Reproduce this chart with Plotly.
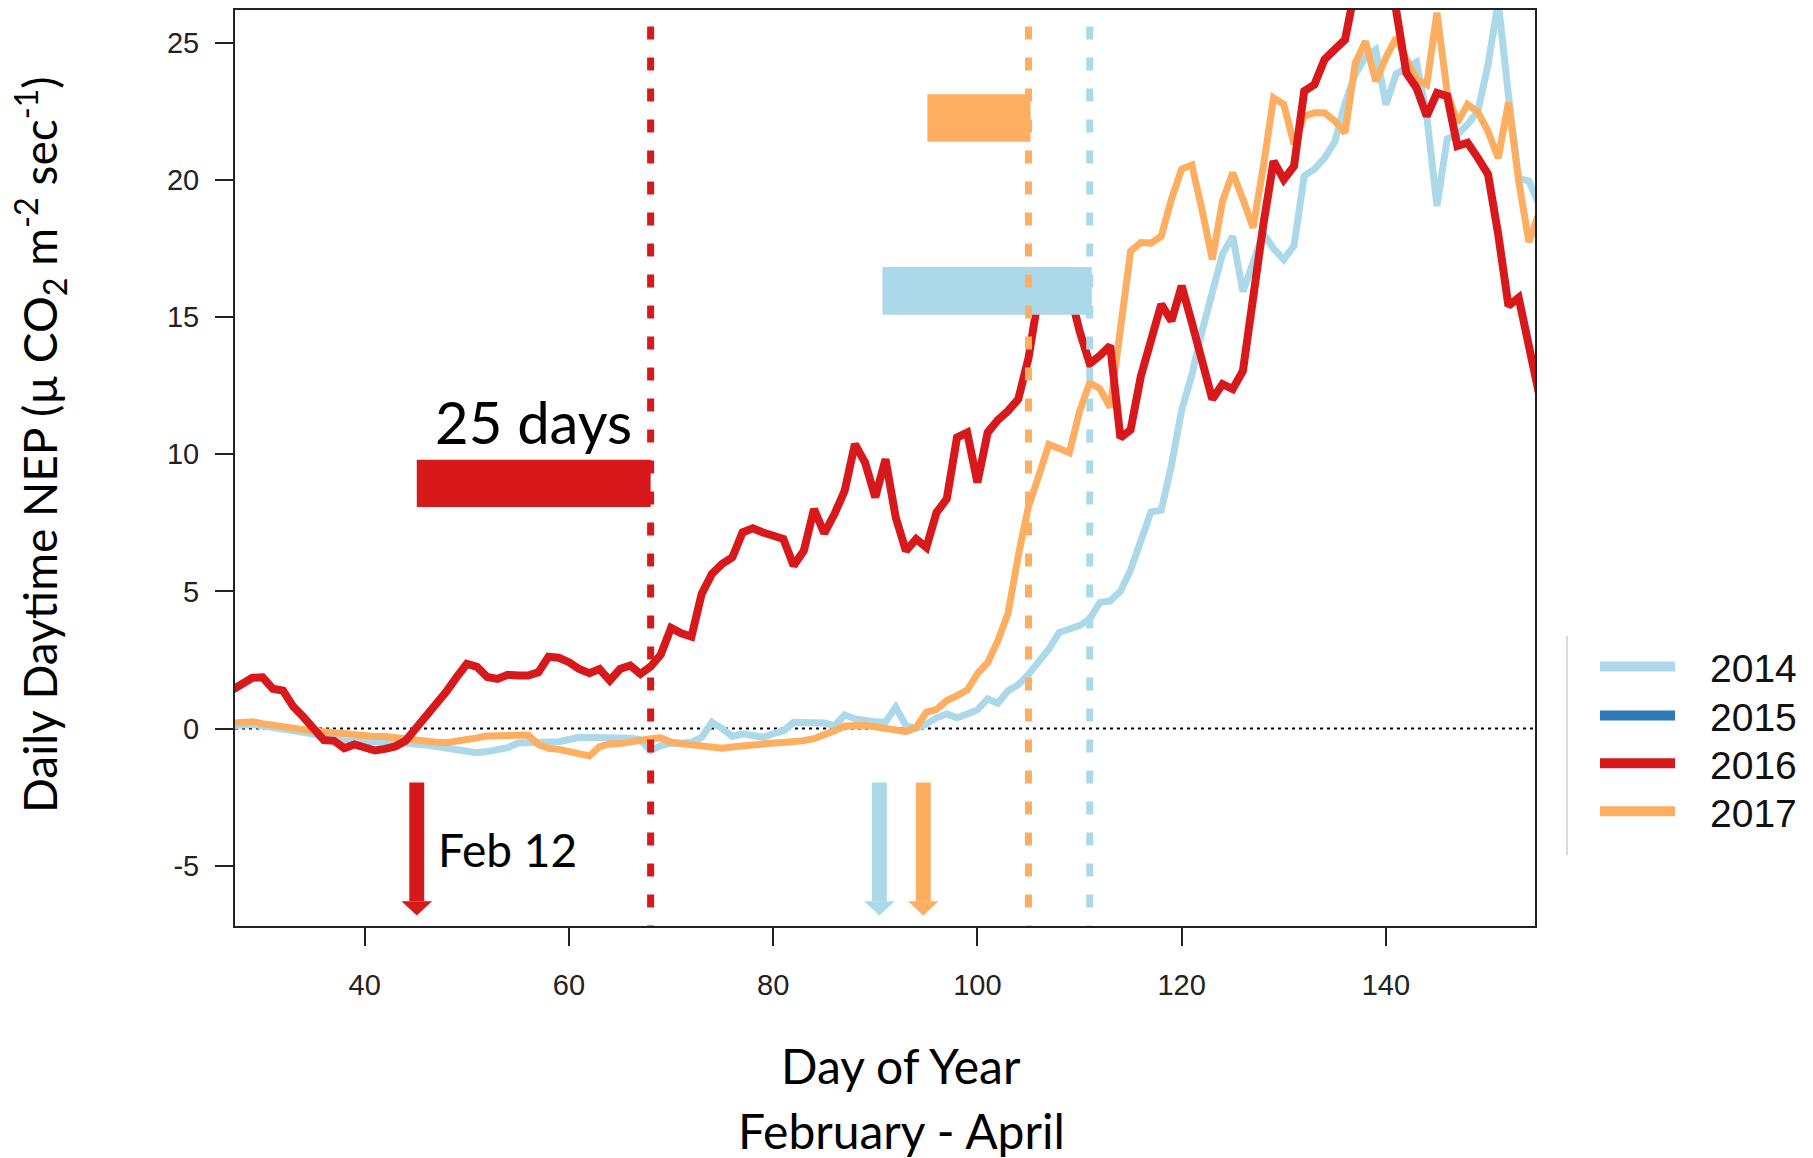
import plotly.graph_objects as go

# ---------------- data ----------------
days = list(range(27, 156))

nep_2014 = [0.10, 0.15, 0.15, 0.10, 0.05, 0.00, -0.10, -0.15, -0.20, -0.30,
            -0.40, -0.45, -0.45, -0.48, -0.50, -0.50, -0.50, -0.52, -0.55, -0.60,
            -0.66, -0.72, -0.80, -0.86, -0.88, -0.84, -0.76, -0.70, -0.53, -0.53,
            -0.50, -0.52, -0.48, -0.40, -0.32, -0.33, -0.33, -0.29, -0.30, -0.35,
            -0.41, -0.80, -0.62, -0.53, -0.54, -0.50, -0.32, 0.23, 0.00, -0.29,
            -0.19, -0.24, -0.32, -0.19, -0.08, 0.23, 0.23, 0.23, 0.20, 0.10,
            0.50, 0.35, 0.28, 0.25, 0.23, 0.78, 0.10, 0.01, 0.16, 0.39,
            0.53, 0.39, 0.53, 0.68, 1.08, 0.92, 1.38, 1.60, 1.97, 2.40,
            2.90, 3.50, 3.65, 3.75, 4.00, 4.60, 4.65, 5.00, 5.78, 6.90,
            7.90, 7.96, 9.60, 11.60, 12.90, 14.50, 15.80, 17.30, 17.95, 15.93,
            17.00, 18.05, 17.50, 17.10, 17.60, 20.15, 20.40, 20.81, 21.40, 22.80,
            23.85, 24.50, 24.76, 22.75, 23.87, 24.08, 24.30, 22.34, 19.05, 21.50,
            21.66, 22.03, 22.51, 24.20, 26.50, 23.10, 20.05, 19.97, 19.10]

nep_2016 = [1.40, 1.60, 1.85, 1.87, 1.45, 1.38, 0.80, 0.42, 0.00, -0.42,
            -0.45, -0.72, -0.58, -0.66, -0.80, -0.74, -0.65, -0.45, -0.02, 0.45,
            0.90, 1.35, 1.87, 2.36, 2.25, 1.88, 1.81, 1.96, 1.93, 1.93,
            2.05, 2.62, 2.58, 2.42, 2.17, 2.02, 2.17, 1.75, 2.17, 2.30,
            1.99, 2.26, 2.70, 3.67, 3.47, 3.35, 4.91, 5.64, 6.00, 6.24,
            7.15, 7.30, 7.15, 7.00, 6.91, 5.94, 6.48, 8.00, 7.12, 7.82,
            8.67, 10.37, 9.70, 8.43, 9.82, 7.70, 6.48, 6.91, 6.61, 7.88,
            8.37, 10.61, 10.79, 8.97, 10.79, 11.25, 11.58, 12.01, 13.50, 15.80,
            16.40, 16.20, 16.00, 14.50, 13.30, 13.60, 13.96, 10.60, 10.89, 12.84,
            14.20, 15.47, 14.86, 16.14, 14.80, 13.40, 12.01, 12.56, 12.38, 13.04,
            15.96, 18.38, 20.69, 20.02, 20.51, 23.24, 23.48, 24.40, 24.76, 25.12,
            27.00, 28.00, 28.50, 27.80, 26.20, 23.90, 23.36, 22.33, 23.18, 23.06,
            21.24, 21.36, 20.81, 20.21, 18.02, 15.41, 15.71, 13.89, 12.20]

nep_2017 = [0.19, 0.25, 0.25, 0.18, 0.12, 0.05, -0.04, -0.10, -0.10, -0.12,
            -0.16, -0.20, -0.24, -0.27, -0.29, -0.29, -0.33, -0.43, -0.46, -0.48,
            -0.50, -0.52, -0.44, -0.40, -0.34, -0.27, -0.25, -0.23, -0.22, -0.24,
            -0.58, -0.72, -0.76, -0.86, -0.95, -1.00, -0.66, -0.56, -0.55, -0.48,
            -0.41, -0.37, -0.34, -0.50, -0.55, -0.60, -0.64, -0.68, -0.72, -0.67,
            -0.62, -0.58, -0.55, -0.53, -0.51, -0.50, -0.44, -0.37, -0.24, -0.08,
            0.09, 0.11, 0.11, 0.06, 0.00, 0.00, -0.11, 0.04, 0.59, 0.70,
            1.02, 1.20, 1.40, 2.00, 2.40, 3.20, 4.20, 6.30, 8.10, 9.20,
            10.36, 10.21, 10.06, 11.56, 12.61, 12.39, 11.71, 14.56, 17.40, 17.72,
            17.70, 17.95, 19.30, 20.40, 20.55, 18.90, 17.11, 19.23, 20.27, 19.30,
            18.26, 20.50, 23.00, 22.76, 21.30, 22.33, 22.45, 22.45, 22.15, 21.72,
            24.27, 25.06, 23.61, 24.46, 25.18, 24.40, 23.67, 23.48, 26.10, 23.20,
            22.10, 22.76, 22.48, 21.78, 20.80, 22.83, 19.97, 17.74, 18.80]

years = ["2014", "2015", "2016", "2017"]
colors = {"2014": "#abd9e9", "2015": "#2c7bb6", "2016": "#d7191c", "2017": "#fdae61"}

# onset (arrow) days, threshold (dashed line) days and bar spans
onset_day = {"2014": 90.4, "2016": 45.1, "2017": 94.7}
threshold_day = {"2014": 111.0, "2016": 68.0, "2017": 105.0}
bar_span = {"2014": (90.7, 111.2, 15.09, 16.83),
            "2016": (45.1, 68.0, 8.08, 9.80),
            "2017": (95.1, 105.2, 21.40, 23.13)}

x_ticks = [40, 60, 80, 100, 120, 140]
y_ticks = [-5, 0, 5, 10, 15, 20, 25]
y_tick_labels = ["-5", "0", "5", "10", "15", "20", "25"]
x_range = [27.3, 154.6]
y_range = [-7.2, 26.2]

# ---------------- figure ----------------
fig = go.Figure()
series = {"2014": nep_2014, "2017": nep_2017, "2016": nep_2016}
widths = {"2014": 7, "2017": 7, "2016": 8}
for yr in ["2014", "2017", "2016"]:
    fig.add_trace(go.Scatter(x=days, y=series[yr], mode="lines", name=yr,
                             line=dict(color=colors[yr], width=widths[yr]),
                             showlegend=False, hoverinfo="skip"))

shapes = []
# zero line
shapes.append(dict(type="line", xref="x", yref="y", x0=x_range[0], x1=x_range[1], y0=0, y1=0,
                   line=dict(color="black", width=2, dash="3px,4px"), layer="below"))
# bars
for yr, (x0, x1, y0, y1) in bar_span.items():
    shapes.append(dict(type="rect", xref="x", yref="y", x0=x0, x1=x1, y0=y0, y1=y1,
                       fillcolor=colors[yr], line=dict(width=0), layer="above"))
# dashed threshold lines
for yr, xd in threshold_day.items():
    shapes.append(dict(type="line", xref="x", yref="y", x0=xd, x1=xd, y0=25.6, y1=y_range[0],
                       line=dict(color=colors[yr], width=7, dash="13px,18px"), layer="above"))
# arrows
for yr, xa in onset_day.items():
    shapes.append(dict(type="rect", xref="x", yref="y", x0=xa - 0.73, x1=xa + 0.73,
                       y0=-6.30, y1=-1.97, fillcolor=colors[yr], line=dict(width=0)))
    shapes.append(dict(type="path", xref="x", yref="y",
                       path=f"M {xa-1.5},-6.30 L {xa+1.5},-6.30 L {xa},-6.82 Z",
                       fillcolor=colors[yr], line=dict(width=0)))

# custom legend
PW, PH, L, B = 1300.0, 918.0, 235.0, 926.0
def px(X):
    return (X - L) / PW
def py(Y):
    return (B - Y) / PH

shapes.append(dict(type="line", xref="paper", yref="paper", x0=px(1567), x1=px(1567),
                   y0=py(635), y1=py(855), line=dict(color="#cccccc", width=1.5)))
annotations = []
leg_y = [666, 715, 763, 811]
for yr, Y in zip(years, leg_y):
    shapes.append(dict(type="line", xref="paper", yref="paper", x0=px(1600), x1=px(1675),
                       y0=py(Y), y1=py(Y), line=dict(color=colors[yr], width=10)))
    annotations.append(dict(xref="paper", yref="paper", x=px(1708), y=py(Y + 2), text=yr,
                            showarrow=False, xanchor="left", yanchor="middle",
                            font=dict(family="Liberation Sans, Arial", size=39, color="#111")))

title_font = "Lato, Carlito, Calibri, sans-serif"
annotations += [
    dict(xref="paper", yref="paper", x=px(901), y=py(1066), text="Day of Year", showarrow=False,
         xanchor="center", yanchor="middle", font=dict(family=title_font, size=48, color="black")),
    dict(xref="paper", yref="paper", x=px(901), y=py(1131), text="February - April", showarrow=False,
         xanchor="center", yanchor="middle", font=dict(family=title_font, size=48, color="black")),
    dict(xref="paper", yref="paper", x=px(40), y=py(444),
         text="Daily Daytime NEP (µ CO<sub>2</sub> m<sup>-2</sup> sec<sup>-1</sup>)",
         showarrow=False, textangle=-90, xanchor="center", yanchor="middle",
         font=dict(family=title_font, size=46, color="black")),
    dict(xref="x", yref="y", x=56.5, y=11.18, text="25 days", showarrow=False,
         xanchor="center", yanchor="middle", font=dict(family=title_font, size=58, color="black")),
    dict(xref="x", yref="y", x=47.0, y=-4.42, text="Feb 12", showarrow=False,
         xanchor="left", yanchor="middle", font=dict(family=title_font, size=46, color="black")),
]

fig.update_layout(
    width=1813, height=1158,
    margin=dict(l=235, r=278, t=8, b=232),
    paper_bgcolor="white", plot_bgcolor="white",
    shapes=shapes, annotations=annotations, showlegend=False,
    font=dict(family="Liberation Sans, Arial", color="#222"),
)
axis_common = dict(showgrid=False, zeroline=False, showline=True, mirror=True,
                   linecolor="#222", linewidth=2, ticks="outside", ticklen=18,
                   tickwidth=2, tickcolor="#222",
                   tickfont=dict(family="Liberation Sans, Arial", size=29, color="#222"))
fig.update_xaxes(range=x_range, tickvals=x_ticks, ticklabelstandoff=14, **axis_common)
fig.update_yaxes(range=y_range, tickvals=y_ticks, ticktext=y_tick_labels,
                 ticklabelstandoff=10, **axis_common)

fig.write_html("out.html")
